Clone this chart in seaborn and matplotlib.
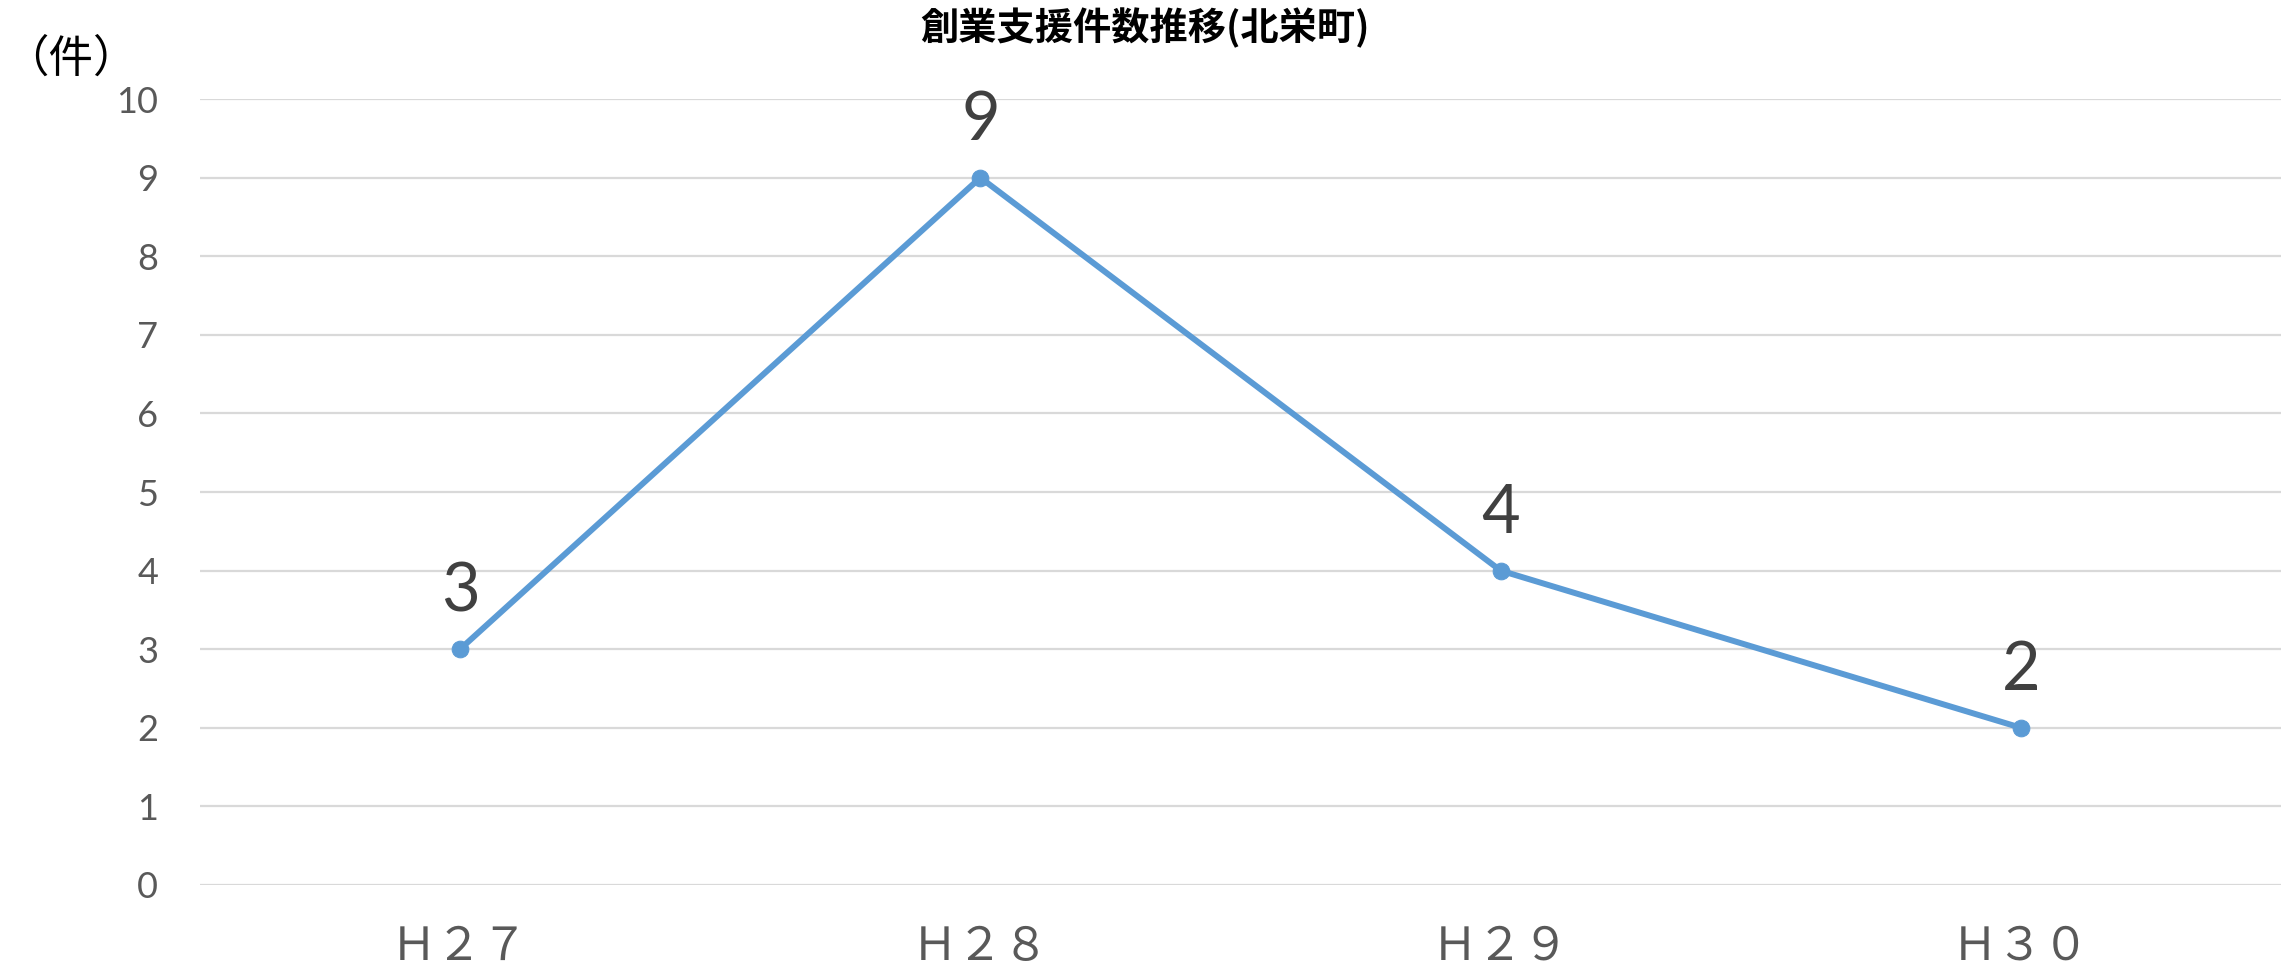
import matplotlib
matplotlib.use("Agg")
import matplotlib.pyplot as plt
import seaborn as sns
import pandas as pd

# 年度別の創業支援件数
years = ["Ｈ２７", "Ｈ２８", "Ｈ２９", "Ｈ３０"]
counts = [3, 9, 4, 2]
y_ticks = list(range(0, 11))

sns.set_theme(style="white")
plt.rcParams["font.family"] = ["Noto Sans CJK JP", "DejaVu Sans"]

df = pd.DataFrame({"年度": years, "件数": counts})

fig = plt.figure(figsize=(22.9, 9.71), dpi=100)
ax = fig.add_axes([0.0873, 0.0886, 0.9088, 0.8094])

line_color = "#5B9BD5"
sns.lineplot(data=df, x="年度", y="件数", ax=ax, color=line_color,
             linewidth=4.3, marker="o", markersize=12,
             markeredgecolor=line_color, markerfacecolor=line_color,
             sort=False, zorder=3)

ax.set_xlim(-0.5, len(years) - 0.5)
ax.set_ylim(0, 10)
ax.set_yticks(y_ticks)
ax.set_yticklabels([str(v) for v in y_ticks], fontfamily="Lato",
                   fontsize=26, color="#595959")
ax.set_xticks(range(len(years)))
ax.set_xticklabels(years, fontsize=33, color="#595959")
ax.tick_params(axis="y", length=0, pad=30)
ax.tick_params(axis="x", length=0, pad=27)

ax.grid(axis="y", color="#D9D9D9", linewidth=1.6)
ax.grid(axis="x", visible=False)
for s in ax.spines.values():
    s.set_visible(False)
ax.set_xlabel("")
ax.set_ylabel("")

# データラベル
for i, v in enumerate(counts):
    ax.annotate(str(v), (i, v), xytext=(0, 27), textcoords="offset points",
                ha="center", va="baseline", fontsize=48, fontfamily="Lato",
                color="#404040")

fig.text(0.5, 0.971, "創業支援件数推移(北栄町)", ha="center", va="center",
         fontsize=27.5, fontweight="bold", color="black")
fig.text(0.031, 0.94, "（件）", ha="center", va="center",
         fontsize=32, color="black")

fig.savefig("out.png", dpi=100, facecolor="white")
